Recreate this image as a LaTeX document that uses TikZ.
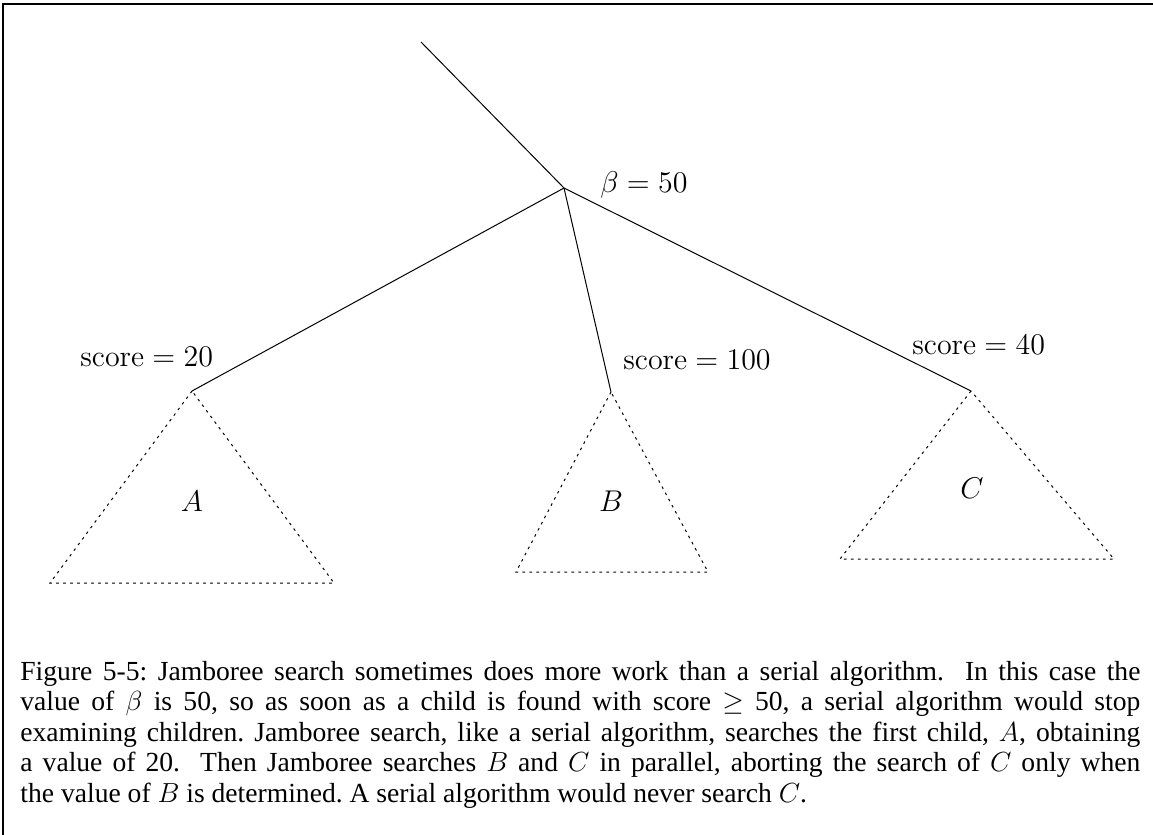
\RequirePackage{fix-cm}
\documentclass[tikz,border=0pt]{standalone}
\usepackage[no-math]{fontspec}
\setmainfont{Liberation Serif}
\begin{document}
\frenchspacing
\begin{tikzpicture}[x=0.5pt,y=-0.5pt,
  edge/.style={line width=0.5pt},
  subtree/.style={line width=0.5pt, dash pattern=on 1.3pt off 2.2pt},
  frameline/.style={line width=0.75pt},
  lbl/.style={inner sep=0pt, font=\fontsize{15}{18}\selectfont},
  capline/.style={inner sep=0pt, anchor=base west, font=\fontsize{13.8}{15}\selectfont}]
\useasboundingbox (0,0) rectangle (1153,835);
% frame
\draw[frameline] (3,835) -- (3,4) -- (1153,4);
% tree points
\coordinate (top) at (421,42);
\coordinate (root) at (564,188);
\coordinate (a) at (192,391);
\coordinate (b) at (611,392);
\coordinate (c) at (971,391);
\coordinate (aL) at (50,583);
\coordinate (aR) at (334,583);
\coordinate (bL) at (516,572);
\coordinate (bR) at (708,572);
\coordinate (cL) at (840,559);
\coordinate (cR) at (1114,559);
% edges
\draw[edge] (top) -- (root);
\draw[edge] (root) -- (a);
\draw[edge] (root) -- (b);
\draw[edge] (root) -- (c);
% subtrees
\draw[subtree] (a) -- (aL) -- (aR) -- cycle;
\draw[subtree] (b) -- (bL) -- (bR) -- cycle;
\draw[subtree] (c) -- (cL) -- (cR) -- cycle;
% labels
\node[lbl, anchor=base west] (beta) at (600,192) {$\beta=50$};
\node[lbl, anchor=west] (sa) at (80,357) {$\mathrm{score}=20$};
\node[lbl, anchor=west] (sb) at (623,360) {$\mathrm{score}=100$};
\node[lbl, anchor=west] (sc) at (912,345) {$\mathrm{score}=40$};
\node[lbl] (la) at (192,501) {$A$};
\node[lbl] (lb) at (611,501) {$B$};
\node[lbl] (lc) at (972,488) {$C$};
% caption
\node[capline] (cap1) at (20,680) {\makebox[560pt][s]{Figure 5-5: Jamboree search sometimes does more work than a serial algorithm.\ \ In this case the}};
\node[capline] (cap2) at (20,710.5) {\makebox[560pt][s]{value of $\beta$ is 50, so as soon as a child is found with score $\geq$ 50, a serial algorithm would stop}};
\node[capline] (cap3) at (20,741) {\makebox[560pt][s]{examining children. Jamboree search, like a serial algorithm, searches the first child, $A$, obtaining}};
\node[capline] (cap4) at (20,771.5) {\makebox[560pt][s]{a value of 20.\ \ Then Jamboree searches $B$ and $C$ in parallel, aborting the search of $C$ only when}};
\node[capline] (cap5) at (20,802) {the value of $B$ is determined. A serial algorithm would never search $C$.};
\end{tikzpicture}
\end{document}
